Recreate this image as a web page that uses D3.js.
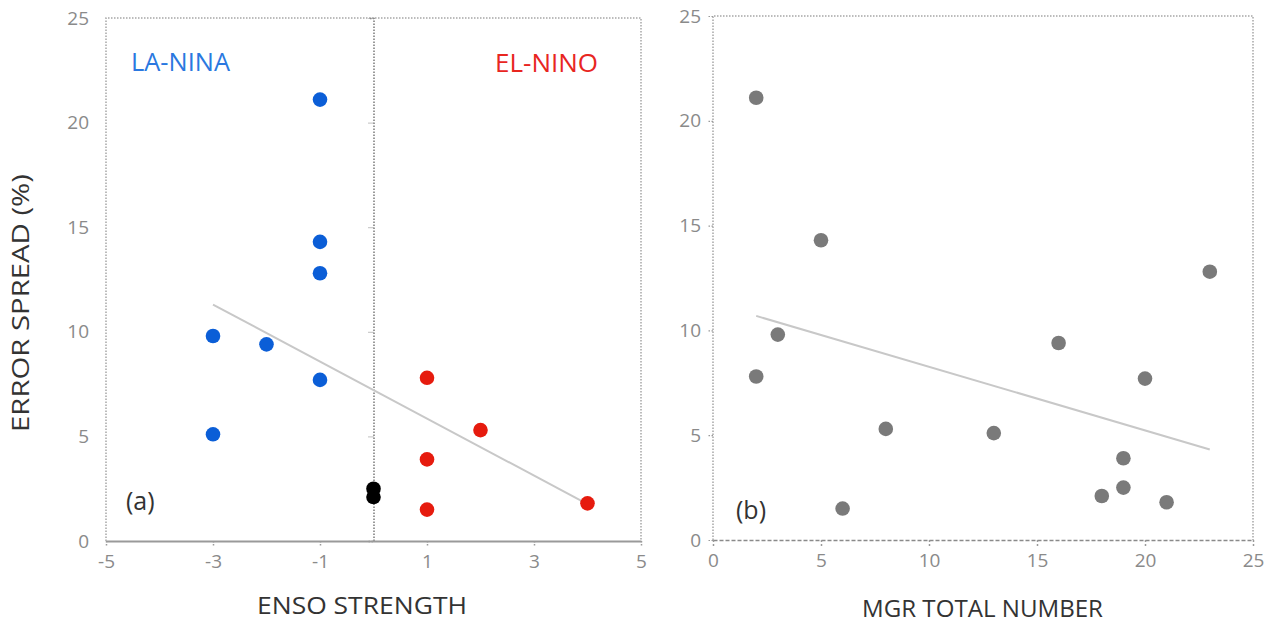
<!DOCTYPE html>
<html><head><meta charset="utf-8">
<script src="https://cdn.jsdelivr.net/npm/d3@7"></script>
<style>
html,body{margin:0;padding:0;background:#fff;}
svg{display:block;font-family:"Open Sans","Noto Sans",sans-serif;}
</style></head>
<body>
<svg id="chart" width="1273" height="625"></svg>
<script>
// ---- data ----
const ensoStrength = [-1, -1, -1, -3, -2, -1, -3, 1, 2, 1, 1, 4, 0, 0];
const mgrTotal     = [ 2,  5, 23,  3, 16, 20, 13, 2, 8, 19, 6, 21, 19, 18];
const errorSpread  = [21.1, 14.3, 12.8, 9.8, 9.4, 7.7, 5.1, 7.8, 5.3, 3.9, 1.5, 1.8, 2.5, 2.1];
const ensoPhase    = ["LA","LA","LA","LA","LA","LA","LA","EL","EL","EL","EL","EL","N","N"];
const yTicks = [0, 5, 10, 15, 20, 25];
const xTicksLeft = [-5, -3, -1, 1, 3, 5];
const xTicksRight = [0, 5, 10, 15, 20, 25];
const labelsLeft = { la: "LA-NINA", el: "EL-NINO", tag: "(a)", x: "ENSO STRENGTH" };
const labelsRight = { tag: "(b)", x: "MGR TOTAL NUMBER" };
const yTitle = "ERROR SPREAD (%)";

const phaseColor = { LA: "#0b5ed7", EL: "#e61b0e", N: "#000000" };
const tickColor = "#8a8a8a";
const borderColor = "#a6a6a6";
const FONT = "'Open Sans','Noto Sans',sans-serif";

const svg = d3.select("#chart");

function regression(xs, ys) {
  const mx = d3.mean(xs), my = d3.mean(ys);
  let sxy = 0, sxx = 0;
  xs.forEach((x, i) => { sxy += (x - mx) * (ys[i] - my); sxx += (x - mx) * (x - mx); });
  const b = sxy / sxx;
  return { b, a: my - b * mx };
}

// ---- Panel (a) ----
(function () {
  const x = d3.scaleLinear().domain([-5, 5]).range([106, 641]);
  const y = d3.scaleLinear().domain([0, 25]).range([541, 18]);
  const g = svg.append("g");
  const dot = "1.5,1.5";
  g.append("path")
    .attr("d", `M${x(-5)},${y(0)}V${y(25)}H${x(5)}V${y(0)}`)
    .attr("fill", "none").attr("stroke", borderColor).attr("stroke-width", 1.5)
    .attr("stroke-dasharray", dot);
  const yAxis = d3.axisLeft(y).tickValues(yTicks).tickSize(5).tickFormat("");
  const ya = g.append("g").attr("transform", `translate(${x(0)},0)`).call(yAxis);
  ya.select(".domain").attr("stroke", "#7a7a7a").attr("stroke-width", 1.5).attr("stroke-dasharray", dot);
  ya.selectAll(".tick line").attr("stroke", "#9a9a9a").attr("stroke-width", 1.2).attr("stroke-dasharray", "1,1");
  g.selectAll(".ylab").data(yTicks).join("text")
    .attr("x", 89).attr("y", d => y(d)).attr("dy", "0.35em")
    .attr("text-anchor", "end").attr("font-size", 19).attr("fill", tickColor).text(d => d);
  const xAxis = d3.axisBottom(x).tickValues(xTicksLeft).tickSize(6).tickPadding(8).tickSizeOuter(0)
    .tickFormat(d => String(d));
  const xa = g.append("g").attr("transform", `translate(0,${y(0)})`).call(xAxis);
  xa.select(".domain").attr("stroke", "#9a9a9a").attr("stroke-width", 2);
  xa.selectAll(".tick line").attr("stroke", "#9a9a9a").attr("stroke-width", 1.5).attr("stroke-dasharray", "1.5,1.5");
  xa.selectAll(".tick text").attr("font-size", 19).attr("fill", tickColor).attr("font-family", FONT);
  const r = regression(ensoStrength, errorSpread);
  const ex = d3.extent(ensoStrength);
  g.append("line")
    .attr("x1", x(ex[0])).attr("y1", y(r.a + r.b * ex[0]))
    .attr("x2", x(ex[1])).attr("y2", y(r.a + r.b * ex[1]))
    .attr("stroke", "#c8c8c8").attr("stroke-width", 2);
  g.selectAll(".pt").data(errorSpread).join("circle")
    .attr("cx", (d, i) => x(ensoStrength[i])).attr("cy", d => y(d)).attr("r", 7.3)
    .attr("fill", (d, i) => phaseColor[ensoPhase[i]]);
  g.append("text").attr("x", 131).attr("y", 71).attr("font-size", 25).attr("fill", "#2a78e0")
    .attr("textLength", 99).attr("lengthAdjust", "spacingAndGlyphs").text(labelsLeft.la);
  g.append("text").attr("x", 495).attr("y", 72).attr("font-size", 25).attr("fill", "#e8261f")
    .attr("textLength", 103).attr("lengthAdjust", "spacingAndGlyphs").text(labelsLeft.el);
  g.append("text").attr("x", 126).attr("y", 510).attr("font-size", 25).attr("fill", "#333").text(labelsLeft.tag);
  g.append("text").attr("x", 257).attr("y", 614).attr("font-size", 23).attr("fill", "#333")
    .attr("textLength", 210).attr("lengthAdjust", "spacingAndGlyphs").text(labelsLeft.x);
  g.append("text").attr("transform", "translate(29,432) rotate(-90)")
    .attr("font-size", 23).attr("fill", "#333")
    .attr("textLength", 258).attr("lengthAdjust", "spacingAndGlyphs").text(yTitle);
})();

// ---- Panel (b) ----
(function () {
  const x = d3.scaleLinear().domain([0, 25]).range([713, 1253]);
  const y = d3.scaleLinear().domain([0, 25]).range([540, 16]);
  const g = svg.append("g");
  const dot = "1.5,1.5";
  g.append("path")
    .attr("d", `M${x(0)},${y(0)}V${y(25)}H${x(25)}V${y(0)}`)
    .attr("fill", "none").attr("stroke", borderColor).attr("stroke-width", 1.5)
    .attr("stroke-dasharray", dot);
  const yAxis = d3.axisLeft(y).tickValues(yTicks).tickSize(6).tickPadding(6).tickSizeOuter(0);
  const ya = g.append("g").attr("transform", `translate(${x(0)},0)`).call(yAxis);
  ya.select(".domain").attr("stroke", "none");
  ya.selectAll(".tick line").attr("stroke", "#9a9a9a").attr("stroke-width", 1.2).attr("stroke-dasharray", "1.5,1.5");
  ya.selectAll(".tick text").attr("font-size", 19).attr("fill", tickColor).attr("font-family", FONT);
  const xAxis = d3.axisBottom(x).tickValues(xTicksRight).tickSize(6).tickPadding(8).tickSizeOuter(0);
  const xa = g.append("g").attr("transform", `translate(0,${y(0)})`).call(xAxis);
  xa.select(".domain").attr("stroke", "#8a8a8a").attr("stroke-width", 1.5).attr("stroke-dasharray", "4,2");
  xa.selectAll(".tick line").attr("stroke", "#9a9a9a").attr("stroke-width", 1.5).attr("stroke-dasharray", "2,2");
  xa.selectAll(".tick text").attr("font-size", 19).attr("fill", tickColor).attr("font-family", FONT);
  const r = regression(mgrTotal, errorSpread);
  const ex = d3.extent(mgrTotal);
  g.append("line")
    .attr("x1", x(ex[0])).attr("y1", y(r.a + r.b * ex[0]))
    .attr("x2", x(ex[1])).attr("y2", y(r.a + r.b * ex[1]))
    .attr("stroke", "#c8c8c8").attr("stroke-width", 2);
  g.selectAll(".pt").data(errorSpread).join("circle")
    .attr("cx", (d, i) => x(mgrTotal[i])).attr("cy", d => y(d)).attr("r", 7.3)
    .attr("fill", "#7a7a7a");
  g.append("text").attr("x", 736).attr("y", 519).attr("font-size", 25).attr("fill", "#333").text(labelsRight.tag);
  g.append("text").attr("x", 862).attr("y", 617).attr("font-size", 23).attr("fill", "#333")
    .attr("textLength", 241).attr("lengthAdjust", "spacingAndGlyphs").text(labelsRight.x);
})();
</script>
</body></html>
